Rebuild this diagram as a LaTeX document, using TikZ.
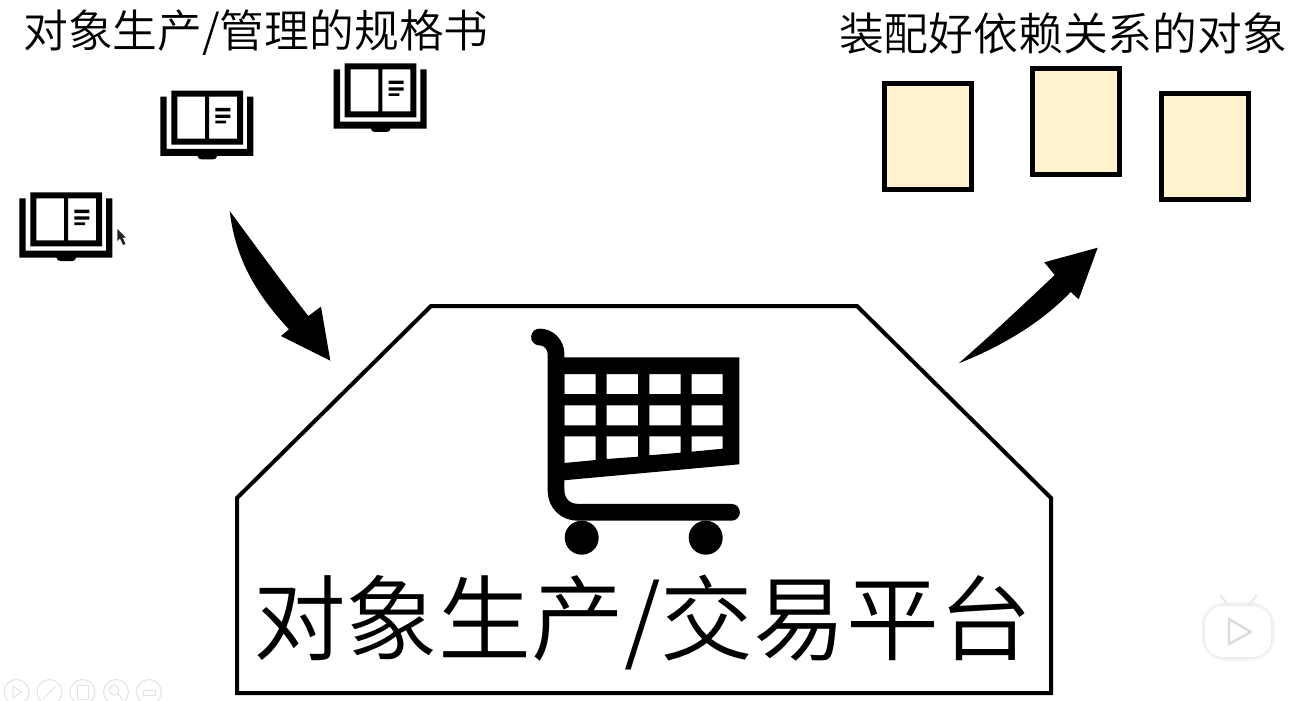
\documentclass[tikz,border=0pt]{standalone}
\usepackage{fontspec}
\newfontfamily\cjklight{Noto Sans CJK SC DemiLight}
\definecolor{sheetfill}{HTML}{FFF2CC}
\tikzset{
  x=0.5pt,y=-0.5pt,
  plat/.style={draw=black,line width=2pt,line join=miter},
  sheet/.style={draw=black,line width=2.3pt,fill=sheetfill,minimum width=43.5pt,minimum height=53pt,inner sep=0pt,anchor=north west},
  titletext/.style={font=\cjklight\fontsize{22.4pt}{26pt}\selectfont,text=black,inner sep=0pt},
  bigtext/.style={font=\cjklight\fontsize{46.4pt}{50pt}\selectfont,text=black,inner sep=0pt},
  ink/.style={fill=black,draw=none},
  pics/bookicon/.style={code={
    \fill[black] (0,6.7) -- (6.3,6.7) -- (6.3,59) -- (86.7,59) -- (86.7,6.7) -- (93,6.7) -- (93,66) -- (56.7,66)
       .. controls (56.7,68) and (55,69.3) .. (53,69.3) -- (41,69.3) .. controls (39,69.3) and (37.3,68) .. (37.3,66) -- (0,66) -- cycle;
    \fill[black,even odd rule] (11,0.7) rectangle (82.7,54.7)
       (17,6.7) rectangle (44.7,48.7) (48.7,6.7) rectangle (76.7,48.7);
    \fill[black] (55,18) rectangle (70,21.3) (55,24.7) rectangle (70,28) (55,30.7) rectangle (65.7,33.3);
  }},
}
\begin{document}
\begin{tikzpicture}
\useasboundingbox (0,0) rectangle (1296,701);
\fill[white] (0,0) rectangle (1296,701);

% titles
\node[titletext] (lefttitle) at (256,33) {对象生产/管理的规格书};
\node[titletext] (righttitle) at (1063,33) {装配好依赖关系的对象};

% books
\pic at (19.3,191.7) {bookicon};
\pic at (160.3,90) {bookicon};
\pic at (333.7,62.7) {bookicon};

% mouse cursor
\fill[black!85] (117.3,229) -- (117.3,241) -- (120,238.5) -- (123,245) -- (125.5,244) -- (122.7,237.7) -- (126,237.5) -- cycle;

% finished objects
\node[sheet] (objA) at (882,81) {};
\node[sheet] (objB) at (1030,66) {};
\node[sheet] (objC) at (1159,91) {};

% platform
\draw[plat] (431,306) -- (857,306) -- (1051,498) -- (1051,693) -- (237,693) -- (237,498) -- cycle;
\node[bigtext] (platlabel) at (642.5,622) {对象生产/交易平台};

% cart
\draw[black,line width=8.4pt,line cap=round,line join=round]
  (539.5,337) .. controls (549,337) and (556,345) .. (556,354) -- (556,490)
  .. controls (556,503) and (565,512.3) .. (578,512.3) -- (731.5,512.3);
\fill[black,even odd rule]
  (556,357.3) -- (739.3,357.3) -- (739.3,464.3) -- (556,481) -- cycle
  (564.3,374) rectangle (595.7,394) (606.7,374) rectangle (638,394) (649.3,374) rectangle (680.7,394) (691.7,374) rectangle (722.7,394)
  (564.3,405.3) rectangle (595.7,425.3) (606.7,405.3) rectangle (638,425.3) (649.3,405.3) rectangle (680.7,425.3) (691.7,405.3) rectangle (722.7,425.3)
  (564.3,436.3) -- (595.7,436.3) -- (595.7,460) -- (564.3,463) -- cycle
  (606.7,436.3) -- (638,436.3) -- (638,456.7) -- (606.7,459) -- cycle
  (649.3,436.3) -- (680.7,436.3) -- (680.7,452.7) -- (649.3,455.3) -- cycle
  (691.7,436.3) -- (722.7,436.3) -- (722.7,448.7) -- (691.7,451.7) -- cycle;
\fill[black] (581.7,537.7) circle[radius=17] (705.7,537.7) circle[radius=17];

% block arrows
\coordinate (inTail) at (229.7,211);
\coordinate (inTip) at (330.3,360.7);
\coordinate (outTail) at (958.7,363.3);
\coordinate (outTip) at (1097.7,247.7);
\fill[ink] (inTail) .. controls (260,252) and (284,285) .. (308.3,316) -- (321,306.7) -- (inTip)
  -- (281,336) -- (289,329.3) .. controls (254,292) and (235,256) .. (inTail) -- cycle;
\fill[ink] (outTail) .. controls (990,336) and (1022,306) .. (1054.7,275) -- (1044.3,262.3) -- (outTip)
  -- (1078.7,299.3) -- (1070.7,292) .. controls (1040,324) and (1000,347) .. (outTail) -- cycle;

% faint player overlay: toolbar
\begin{scope}[draw=black!11,line width=0.5pt]
  \draw (16.5,692) circle[radius=12.5] (49.5,692) circle[radius=12.5] (82.5,692) circle[radius=12.5] (116,692) circle[radius=12.5] (149,692) circle[radius=12.5];
  \draw (13,686) -- (21,692) -- (13,698) -- cycle;
  \draw (43,699) -- (56,686);
  \draw (77,685) rectangle (88,699);
  \draw (114,690) circle[radius=5] (118,694) -- (123,700);
  \draw (143,690) rectangle (155,695);
\end{scope}
% faint player overlay: badge
\foreach \w/\g in {4/3,2.6/5,1.4/8}{
  \draw[black!\g,line width=\w pt,rounded corners=10pt,line join=round] (1205,606) rectangle (1271,657);
}
\fill[white,rounded corners=9pt] (1205,606) rectangle (1271,657);
\draw[black!7,line width=1.2pt,line cap=round] (1221,596) -- (1228,605) (1256,596) -- (1249,605);
\draw[black!14,fill=white,line width=1.2pt,line join=round] (1229,619) -- (1251,632) -- (1229,644) -- cycle;
\end{tikzpicture}
\end{document}
